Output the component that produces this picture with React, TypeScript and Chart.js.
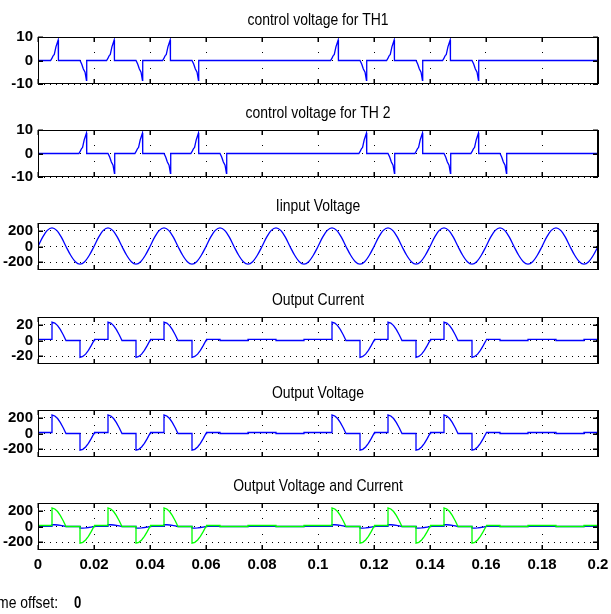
import React, { useEffect, useRef } from "react";
import { Chart, registerables } from "chart.js";

Chart.register(...registerables);

// ---------- data ----------
const xTickValues = [0, 0.02, 0.04, 0.06, 0.08, 0.1, 0.12, 0.14, 0.16, 0.18, 0.2];
const xTickLabels = ["0", "0.02", "0.04", "0.06", "0.08", "0.1", "0.12", "0.14", "0.16", "0.18", "0.2"];

const titles = [
  "control voltage for TH1",
  "control voltage for TH 2",
  "Iinput Voltage",
  "Output Current",
  "Output Voltage",
  "Output Voltage and Current",
];

const controlTicks = [-10, 0, 10];
const controlTickLabels = ["-10", "0", "10"];
const voltageTicks = [-200, 0, 200];
const voltageTickLabels = ["-200", "0", "200"];
const currentTicks = [-20, 0, 20];
const currentTickLabels = ["-20", "0", "20"];

// control voltage for TH1 : [time s, volts]
const th1Signal = [
  [0, 0],
  [0.0045, 0], [0.005, 1], [0.0055, 2.2], [0.0058, 2.5], [0.0064, 5.8], [0.0072, 8.7], [0.0073, 0],
  [0.015, 0], [0.0156, -1.5], [0.0162, -3.6], [0.0168, -5], [0.0173, -8.4], [0.0174, 0],
  [0.0245, 0], [0.025, 1], [0.0255, 2.2], [0.0258, 2.5], [0.0264, 5.8], [0.0272, 8.7], [0.0273, 0],
  [0.035, 0], [0.0356, -1.5], [0.0362, -3.6], [0.0368, -5], [0.0373, -8.4], [0.0374, 0],
  [0.0445, 0], [0.045, 1], [0.0455, 2.2], [0.0458, 2.5], [0.0464, 5.8], [0.0472, 8.7], [0.0473, 0],
  [0.055, 0], [0.0556, -1.5], [0.0562, -3.6], [0.0568, -5], [0.0573, -8.4], [0.0574, 0],
  [0.1045, 0], [0.105, 1], [0.1055, 2.2], [0.1058, 2.5], [0.1064, 5.8], [0.1072, 8.7], [0.1073, 0],
  [0.115, 0], [0.1156, -1.5], [0.1162, -3.6], [0.1168, -5], [0.1173, -8.4], [0.1174, 0],
  [0.1245, 0], [0.125, 1], [0.1255, 2.2], [0.1258, 2.5], [0.1264, 5.8], [0.1272, 8.7], [0.1273, 0],
  [0.135, 0], [0.1356, -1.5], [0.1362, -3.6], [0.1368, -5], [0.1373, -8.4], [0.1374, 0],
  [0.1445, 0], [0.145, 1], [0.1455, 2.2], [0.1458, 2.5], [0.1464, 5.8], [0.1472, 8.7], [0.1473, 0],
  [0.155, 0], [0.1556, -1.5], [0.1562, -3.6], [0.1568, -5], [0.1573, -8.4], [0.1574, 0],
  [0.2, 0],
];

// control voltage for TH 2 : [time s, volts]
const th2Signal = [
  [0, 0],
  [0.0146, 0], [0.0151, 1], [0.0156, 2.2], [0.0159, 2.5], [0.0165, 5.8], [0.0173, 8.7], [0.0174, 0],
  [0.025, 0], [0.0256, -1.5], [0.0262, -3.6], [0.0268, -5], [0.0273, -8.4], [0.0274, 0],
  [0.0346, 0], [0.0351, 1], [0.0356, 2.2], [0.0359, 2.5], [0.0365, 5.8], [0.0373, 8.7], [0.0374, 0],
  [0.045, 0], [0.0456, -1.5], [0.0462, -3.6], [0.0468, -5], [0.0473, -8.4], [0.0474, 0],
  [0.0546, 0], [0.0551, 1], [0.0556, 2.2], [0.0559, 2.5], [0.0565, 5.8], [0.0573, 8.7], [0.0574, 0],
  [0.065, 0], [0.0656, -1.5], [0.0662, -3.6], [0.0668, -5], [0.0673, -8.4], [0.0674, 0],
  [0.1146, 0], [0.1151, 1], [0.1156, 2.2], [0.1159, 2.5], [0.1165, 5.8], [0.1173, 8.7], [0.1174, 0],
  [0.125, 0], [0.1256, -1.5], [0.1262, -3.6], [0.1268, -5], [0.1273, -8.4], [0.1274, 0],
  [0.1346, 0], [0.1351, 1], [0.1356, 2.2], [0.1359, 2.5], [0.1365, 5.8], [0.1373, 8.7], [0.1374, 0],
  [0.145, 0], [0.1456, -1.5], [0.1462, -3.6], [0.1468, -5], [0.1473, -8.4], [0.1474, 0],
  [0.1546, 0], [0.1551, 1], [0.1556, 2.2], [0.1559, 2.5], [0.1565, 5.8], [0.1573, 8.7], [0.1574, 0],
  [0.165, 0], [0.1656, -1.5], [0.1662, -3.6], [0.1668, -5], [0.1673, -8.4], [0.1674, 0],
  [0.2, 0],
];

// input voltage, sampled every inputStep seconds
const inputStep = 0.02 / 12;
const inputVoltage = [
  0, 119, 206, 238, 206, 119, 0, -112, -194, -224, -194, -112,
  0, 119, 206, 238, 206, 119, 0, -112, -194, -224, -194, -112,
  0, 119, 206, 238, 206, 119, 0, -112, -194, -224, -194, -112,
  0, 119, 206, 238, 206, 119, 0, -112, -194, -224, -194, -112,
  0, 119, 206, 238, 206, 119, 0, -112, -194, -224, -194, -112,
  0, 119, 206, 238, 206, 119, 0, -112, -194, -224, -194, -112,
  0, 119, 206, 238, 206, 119, 0, -112, -194, -224, -194, -112,
  0, 119, 206, 238, 206, 119, 0, -112, -194, -224, -194, -112,
  0, 119, 206, 238, 206, 119, 0, -112, -194, -224, -194, -112,
  0, 119, 206, 238, 206, 119, 0, -112, -194, -224, -194, -112,
  0,
];

// output current : [time s, amps]
const outputCurrent = [
  [0, 1.5], [0.005, 1.5], [0.005, 23.5], [0.006, 22.3], [0.007, 19], [0.008, 13.8], [0.009, 7.3], [0.01, 0],
  [0.015, 0], [0.015, -21.5], [0.016, -20.4], [0.017, -17.4], [0.018, -12.6], [0.019, -6.6], [0.02, 0], [0.0202, 1.5],
  [0.025, 1.5], [0.025, 23.5], [0.026, 22.3], [0.027, 19], [0.028, 13.8], [0.029, 7.3], [0.03, 0],
  [0.035, 0], [0.035, -21.5], [0.036, -20.4], [0.037, -17.4], [0.038, -12.6], [0.039, -6.6], [0.04, 0], [0.0402, 1.5],
  [0.045, 1.5], [0.045, 23.5], [0.046, 22.3], [0.047, 19], [0.048, 13.8], [0.049, 7.3], [0.05, 0],
  [0.055, 0], [0.055, -21.5], [0.056, -20.4], [0.057, -17.4], [0.058, -12.6], [0.059, -6.6], [0.06, 0], [0.0602, 1.5],
  [0.065, 1.5], [0.065, 0], [0.075, 0], [0.075, 1.5], [0.085, 1.5], [0.085, 0], [0.095, 0], [0.095, 1.5],
  [0.105, 1.5], [0.105, 23.5], [0.106, 22.3], [0.107, 19], [0.108, 13.8], [0.109, 7.3], [0.11, 0],
  [0.115, 0], [0.115, -21.5], [0.116, -20.4], [0.117, -17.4], [0.118, -12.6], [0.119, -6.6], [0.12, 0], [0.1202, 1.5],
  [0.125, 1.5], [0.125, 23.5], [0.126, 22.3], [0.127, 19], [0.128, 13.8], [0.129, 7.3], [0.13, 0],
  [0.135, 0], [0.135, -21.5], [0.136, -20.4], [0.137, -17.4], [0.138, -12.6], [0.139, -6.6], [0.14, 0], [0.1402, 1.5],
  [0.145, 1.5], [0.145, 23.5], [0.146, 22.3], [0.147, 19], [0.148, 13.8], [0.149, 7.3], [0.15, 0],
  [0.155, 0], [0.155, -21.5], [0.156, -20.4], [0.157, -17.4], [0.158, -12.6], [0.159, -6.6], [0.16, 0], [0.1602, 1.5],
  [0.165, 1.5], [0.165, 0], [0.175, 0], [0.175, 1.5], [0.185, 1.5], [0.185, 0], [0.195, 0], [0.195, 1.5], [0.2, 1.5],
];

// output voltage : [time s, volts]
const outputVoltage = [
  [0, 13], [0.005, 13], [0.005, 236], [0.006, 224], [0.007, 191], [0.008, 139], [0.009, 73], [0.01, 0],
  [0.015, 0], [0.015, -212], [0.016, -202], [0.017, -172], [0.018, -125], [0.019, -66], [0.02, 0], [0.0202, 13],
  [0.025, 13], [0.025, 236], [0.026, 224], [0.027, 191], [0.028, 139], [0.029, 73], [0.03, 0],
  [0.035, 0], [0.035, -212], [0.036, -202], [0.037, -172], [0.038, -125], [0.039, -66], [0.04, 0], [0.0402, 13],
  [0.045, 13], [0.045, 236], [0.046, 224], [0.047, 191], [0.048, 139], [0.049, 73], [0.05, 0],
  [0.055, 0], [0.055, -212], [0.056, -202], [0.057, -172], [0.058, -125], [0.059, -66], [0.06, 0], [0.0602, 13],
  [0.065, 13], [0.065, 0], [0.075, 0], [0.075, 13], [0.085, 13], [0.085, 0], [0.095, 0], [0.095, 13],
  [0.105, 13], [0.105, 236], [0.106, 224], [0.107, 191], [0.108, 139], [0.109, 73], [0.11, 0],
  [0.115, 0], [0.115, -212], [0.116, -202], [0.117, -172], [0.118, -125], [0.119, -66], [0.12, 0], [0.1202, 13],
  [0.125, 13], [0.125, 236], [0.126, 224], [0.127, 191], [0.128, 139], [0.129, 73], [0.13, 0],
  [0.135, 0], [0.135, -212], [0.136, -202], [0.137, -172], [0.138, -125], [0.139, -66], [0.14, 0], [0.1402, 13],
  [0.145, 13], [0.145, 236], [0.146, 224], [0.147, 191], [0.148, 139], [0.149, 73], [0.15, 0],
  [0.155, 0], [0.155, -212], [0.156, -202], [0.157, -172], [0.158, -125], [0.159, -66], [0.16, 0], [0.1602, 13],
  [0.165, 13], [0.165, 0], [0.175, 0], [0.175, 13], [0.185, 13], [0.185, 0], [0.195, 0], [0.195, 13], [0.2, 13],
];

const footerLabel = "Time offset:";
const footerValue = "0";

// ---------- layout / style ----------
const W = 611;
const H = 614;
const PLOT_LEFT = 38;
const PLOT_RIGHT = 598;
const PLOT_TOPS = [37, 130, 223, 317, 410, 503];
const PLOT_H = 47;
const X_AXIS_H = 30;
const BLUE = "#0000ff";
const GREEN = "#00ff00";
const FAMILY = "'Liberation Sans', Arial, sans-serif";
const TEXT_SQUEEZE = 0.82;

const toXY = (pairs: number[][]) => pairs.map(([x, y]) => ({ x, y }));
const inputXY = inputVoltage.map((v, i) => ({ x: i * inputStep, y: v }));

type Panel = {
  title: string;
  min: number;
  max: number;
  yTicks: number[];
  yLabels: string[];
  datasets: any[];
};

const lineDs = (data: any[], color: string, extra: any = {}) => ({
  data,
  borderColor: color,
  backgroundColor: color,
  borderWidth: 1.3,
  pointRadius: 0,
  tension: 0,
  fill: false,
  ...extra,
});

const panels: Panel[] = [
  { title: titles[0], min: -10, max: 10, yTicks: controlTicks, yLabels: controlTickLabels, datasets: [lineDs(toXY(th1Signal), BLUE)] },
  { title: titles[1], min: -10, max: 10, yTicks: controlTicks, yLabels: controlTickLabels, datasets: [lineDs(toXY(th2Signal), BLUE)] },
  { title: titles[2], min: -300, max: 300, yTicks: voltageTicks, yLabels: voltageTickLabels, datasets: [lineDs(inputXY, BLUE, { cubicInterpolationMode: "monotone" })] },
  { title: titles[3], min: -30, max: 30, yTicks: currentTicks, yLabels: currentTickLabels, datasets: [lineDs(toXY(outputCurrent), BLUE)] },
  { title: titles[4], min: -300, max: 300, yTicks: voltageTicks, yLabels: voltageTickLabels, datasets: [lineDs(toXY(outputVoltage), BLUE)] },
  {
    title: titles[5], min: -300, max: 300, yTicks: voltageTicks, yLabels: voltageTickLabels,
    datasets: [lineDs(toXY(outputVoltage), GREEN), lineDs(toXY(outputCurrent), BLUE)],
  },
];

function squeezedText(ctx: any, text: string, x: number, y: number, align: string) {
  ctx.save();
  ctx.translate(x, y);
  ctx.scale(TEXT_SQUEEZE, 1);
  ctx.textAlign = align;
  ctx.fillText(text, 0, 0);
  ctx.restore();
}

const framePlugin = {
  id: "frame",
  afterDatasetsDraw(chart: any, _args: any, opts: any) {
    const { ctx, chartArea, scales } = chart;
    const { left, right, top, bottom } = chartArea;
    ctx.save();
    ctx.strokeStyle = "#000";
    ctx.lineWidth = 1;
    ctx.strokeRect(left + 0.5, top + 0.5, right - left - 1, bottom - top - 1);
    ctx.lineWidth = 2;
    ctx.beginPath();
    ctx.moveTo(right, top);
    ctx.lineTo(right, bottom);
    ctx.stroke();
    // inner tick marks
    ctx.lineWidth = 1.5;
    ctx.beginPath();
    for (const v of xTickValues) {
      const px = Math.round(scales.x.getPixelForValue(v)) + 0.25;
      ctx.moveTo(px, top);
      ctx.lineTo(px, top + 5);
      ctx.moveTo(px, bottom);
      ctx.lineTo(px, bottom - 5);
    }
    for (const v of opts.yTicks) {
      const py = Math.round(scales.y.getPixelForValue(v)) + 0.25;
      ctx.moveTo(left, py);
      ctx.lineTo(left + 5, py);
      ctx.moveTo(right, py);
      ctx.lineTo(right - 5, py);
    }
    ctx.stroke();
    // title
    ctx.fillStyle = "#000";
    ctx.font = `17px ${FAMILY}`;
    ctx.textBaseline = "alphabetic";
    squeezedText(ctx, opts.title, (left + right) / 2, top - 12.5, "center");
    if (opts.footer) {
      squeezedText(ctx, footerLabel, 58, 608, "right");
      ctx.font = `bold 16px ${FAMILY}`;
      squeezedText(ctx, footerValue, 74, 608, "left");
    }
    ctx.restore();
  },
};

function makeConfig(p: Panel, i: number): any {
  const isLast = i === panels.length - 1;
  const top = PLOT_TOPS[i];
  return {
    type: "line",
    data: { datasets: p.datasets },
    plugins: [framePlugin],
    options: {
      animation: false,
      responsive: false,
      devicePixelRatio: 1,
      events: [],
      layout: {
        padding: { left: 0, right: W - PLOT_RIGHT, top, bottom: H - (top + PLOT_H) - X_AXIS_H },
      },
      plugins: {
        legend: { display: false },
        tooltip: { enabled: false },
        frame: { title: p.title, yTicks: p.yTicks, footer: isLast },
      },
      scales: {
        x: {
          type: "linear",
          min: 0,
          max: 0.2,
          afterBuildTicks: (s: any) => {
            s.ticks = xTickValues.map((v) => ({ value: v }));
          },
          afterFit: (s: any) => {
            s.height = X_AXIS_H;
            s.paddingLeft = 0;
            s.paddingRight = 0;
          },
          border: { display: false, dash: [1, 15], dashOffset: 1 },
          grid: { color: "#000", lineWidth: 1, drawTicks: false },
          ticks: {
            display: isLast,
            autoSkip: false,
            maxRotation: 0,
            padding: 6,
            color: "#000",
            font: { family: FAMILY, size: 15, weight: "bold" },
            callback: (_v: any, idx: number) => xTickLabels[idx],
          },
        },
        y: {
          type: "linear",
          min: p.min,
          max: p.max,
          afterBuildTicks: (s: any) => {
            s.ticks = p.yTicks.map((v) => ({ value: v }));
          },
          afterFit: (s: any) => {
            s.width = PLOT_LEFT;
            s.paddingTop = 0;
            s.paddingBottom = 0;
          },
          border: { display: false, dash: [1, 5] },
          grid: { color: "#000", lineWidth: 1, drawTicks: false },
          ticks: {
            autoSkip: false,
            padding: 5,
            color: "#000",
            font: { family: FAMILY, size: 15, weight: "bold" },
            callback: (_v: any, idx: number) => p.yLabels[idx],
          },
        },
      },
    },
  };
}

export default function App() {
  const refs = useRef<(HTMLCanvasElement | null)[]>([]);

  useEffect(() => {
    const charts = panels.map((p, i) => new Chart(refs.current[i] as HTMLCanvasElement, makeConfig(p, i)));
    return () => {
      charts.forEach((c) => c.destroy());
    };
  }, []);

  return (
    <div
      style={{
        position: "absolute",
        left: 0,
        top: 0,
        width: W,
        height: H,
        background: "#fff",
        overflow: "hidden",
      }}
    >
      {panels.map((_p, i) => (
        <canvas
          key={i}
          ref={(el) => {
            refs.current[i] = el;
          }}
          width={W}
          height={H}
          style={{ position: "absolute", left: 0, top: 0, width: W, height: H }}
        />
      ))}
    </div>
  );
}
